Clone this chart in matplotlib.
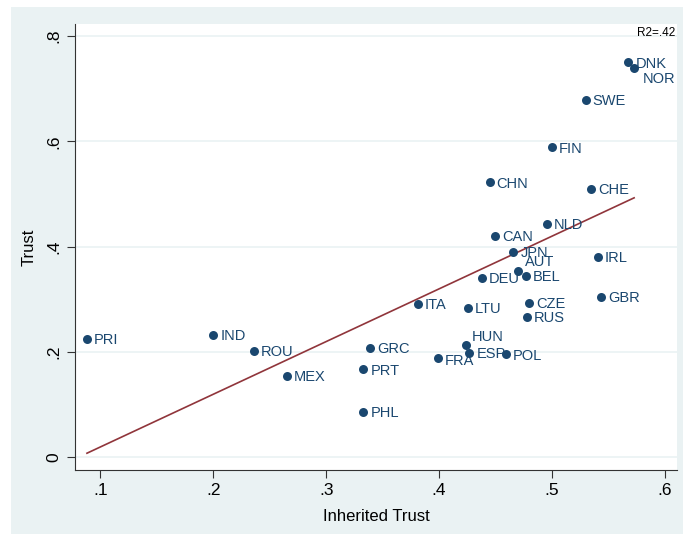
import numpy as np
import matplotlib
matplotlib.use("Agg")
from matplotlib import pyplot as plt

plt.rcParams['font.family'] = ['Liberation Sans', 'DejaVu Sans']

countries = ['PRI', 'IND', 'ROU', 'MEX', 'GRC', 'PRT', 'PHL', 'ITA', 'LTU', 'DEU',
             'CAN', 'NLD', 'JPN', 'AUT', 'BEL', 'IRL', 'GBR', 'CZE', 'RUS', 'HUN',
             'ESP', 'POL', 'FRA', 'DNK', 'NOR', 'SWE', 'FIN', 'CHN', 'CHE']
inherited = [0.088, 0.200, 0.236, 0.265, 0.339, 0.333, 0.333, 0.381, 0.426, 0.438,
             0.450, 0.496, 0.466, 0.470, 0.477, 0.541, 0.544, 0.480, 0.478, 0.424,
             0.427, 0.459, 0.399, 0.568, 0.573, 0.530, 0.500, 0.445, 0.535]
trust = [0.225, 0.232, 0.202, 0.154, 0.207, 0.167, 0.086, 0.291, 0.283, 0.341,
         0.421, 0.443, 0.390, 0.354, 0.344, 0.380, 0.304, 0.293, 0.267, 0.212,
         0.198, 0.195, 0.188, 0.750, 0.739, 0.679, 0.589, 0.522, 0.510]

# label offsets (points) - most to the right, a few moved
offsets = {'NOR': (6, -8), 'AUT': (5, 6), 'HUN': (4, 6), 'FRA': (5, -2)}

navy = '#1a476f'
maroon = '#90353b'
bg = '#eaf2f3'

fig = plt.figure(figsize=(6.83, 5.34), dpi=100)
fig.patch.set_facecolor('white')
# stata style graph region
fig.patches.append(plt.Rectangle((11/683, -0.1), 2, 1.1 - 7/534, transform=fig.transFigure,
                                 facecolor=bg, edgecolor='none', zorder=-10))
ax = fig.add_axes([75/683, 1 - 470/534, 602/683, 446/534])
ax.set_facecolor('white')

x = np.array(inherited)
y = np.array(trust)
b, a = np.polyfit(x, y, 1)
xs = np.array([x.min(), x.max()])
ax.plot(xs, a + b * xs, color=maroon, lw=1.2, zorder=2)

ax.scatter(x, y, s=42, color=navy, zorder=3, linewidths=0)
for c, xi, yi in zip(countries, inherited, trust):
    dx, dy = offsets.get(c, (5, -1))
    ax.annotate(c, (xi, yi), xytext=(dx, dy), textcoords='offset points',
                ha='left', va='center', color=navy, fontsize=10.5, zorder=4)

ax.set_xlim(0.0774, 0.611)
ax.set_ylim(-0.0247, 0.823)
ax.set_xticks([0.1, 0.2, 0.3, 0.4, 0.5, 0.6])
ax.set_xticklabels(['.1', '.2', '.3', '.4', '.5', '.6'], fontsize=12.5)
ax.set_yticks([0, 0.2, 0.4, 0.6, 0.8])
ax.set_yticklabels(['0', '.2', '.4', '.6', '.8'], fontsize=12.5, rotation=90, va='center')
ax.tick_params(length=6, width=0.8, color='#333333')
ax.yaxis.grid(True, color=bg, lw=1.2)
ax.set_axisbelow(True)
for s in ['top', 'right']:
    ax.spines[s].set_visible(False)
for s in ['left', 'bottom']:
    ax.spines[s].set_color('#333333')
    ax.spines[s].set_linewidth(0.8)

ax.set_xlabel('Inherited Trust', fontsize=12, labelpad=8)
ax.set_ylabel('Trust', fontsize=12, labelpad=7)
ax.text(0.997, 0.993, 'R2=.42', transform=ax.transAxes, ha='right', va='top', fontsize=8.5)

fig.savefig('out.png', dpi=100, facecolor=fig.get_facecolor())
